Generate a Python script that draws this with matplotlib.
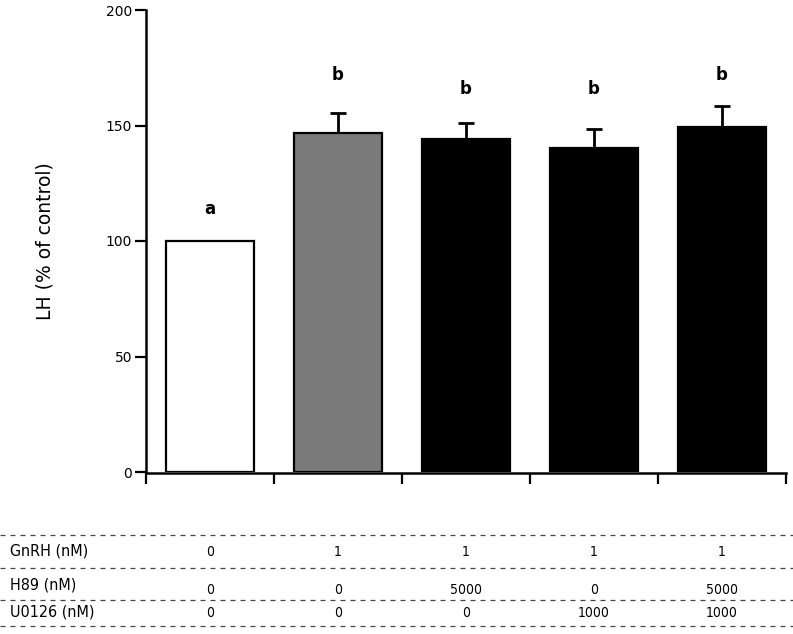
import numpy as np
import matplotlib.pyplot as plt

means = [100, 146.7, 144.2, 140.3, 149.4]
errors = [0, 8.7, 6.8, 8.2, 9.0]
letters = ['a', 'b', 'b', 'b', 'b']
letter_y = [114, 172, 166, 166, 172]
colors = ['white', '#7a7a7a', 'black', 'black', 'black']

row_names = ['GnRH (nM)', 'H89 (nM)', 'U0126 (nM)']
gnrh = ['0', '1', '1', '1', '1']
h89 = ['0', '0', '5000', '0', '5000']
u0126 = ['0', '0', '0', '1000', '1000']


def main():
    fig = plt.figure(figsize=(7.93, 6.34), dpi=100)
    ax = fig.add_axes([146 / 793, 1 - 472 / 634, 640 / 793, 462 / 634])

    x = np.arange(len(means))
    ax.bar(x, means, width=0.68, color=colors, edgecolor='black', linewidth=1.6, zorder=2)
    err_x = x[1:]
    ax.errorbar(err_x, np.array(means)[1:], yerr=[np.zeros(4), np.array(errors)[1:]],
                fmt='none', ecolor='black', elinewidth=2, capsize=6, capthick=2, zorder=1)

    for i in range(len(means)):
        ax.text(x[i], letter_y[i], letters[i], ha='center', va='center',
                fontsize=12, fontweight='bold')

    ax.set_xlim(-0.5, 4.5)
    ax.set_ylim(0, 200)
    ax.set_yticks([0, 50, 100, 150, 200])
    ax.tick_params(axis='y', direction='out', length=8, width=1.6, labelsize=10, pad=2)
    ax.set_xticks(np.arange(-0.5, 5, 1))
    ax.set_xticklabels([])
    ax.tick_params(axis='x', direction='out', length=8, width=1.6)
    for s in ['top', 'right']:
        ax.spines[s].set_visible(False)
    for s in ['left', 'bottom']:
        ax.spines[s].set_linewidth(1.8)
    ax.spines['bottom'].set_position(('outward', 1))
    ax.set_ylabel('LH (% of control)', fontsize=13.5, labelpad=37)

    # table below the chart
    line_y = [535, 568, 600, 626]
    for ly in line_y:
        fig.add_artist(plt.Line2D([0, 1], [1 - ly / 634] * 2, transform=fig.transFigure,
                                  color='#444444', linestyle=(0, (4, 4)), linewidth=0.9))
    rows = [gnrh, h89, u0126]
    row_y = [552, 586, 613]
    for r in range(3):
        fig.text(10 / 793, 1 - (row_y[r] - 1) / 634, row_names[r], ha='left', va='center',
                 fontsize=11.5, family='DejaVu Sans', stretch='condensed')
        for i in range(5):
            xf = (146 + (i + 0.5) * 128) / 793
            off = 4 if r == 1 else 0
            fig.text(xf, 1 - (row_y[r] + off) / 634, rows[r][i], ha='center', va='center',
                     fontsize=10, family='DejaVu Sans', stretch='condensed')

    fig.savefig('out.png', dpi=100)


if __name__ == "__main__":
    main()
